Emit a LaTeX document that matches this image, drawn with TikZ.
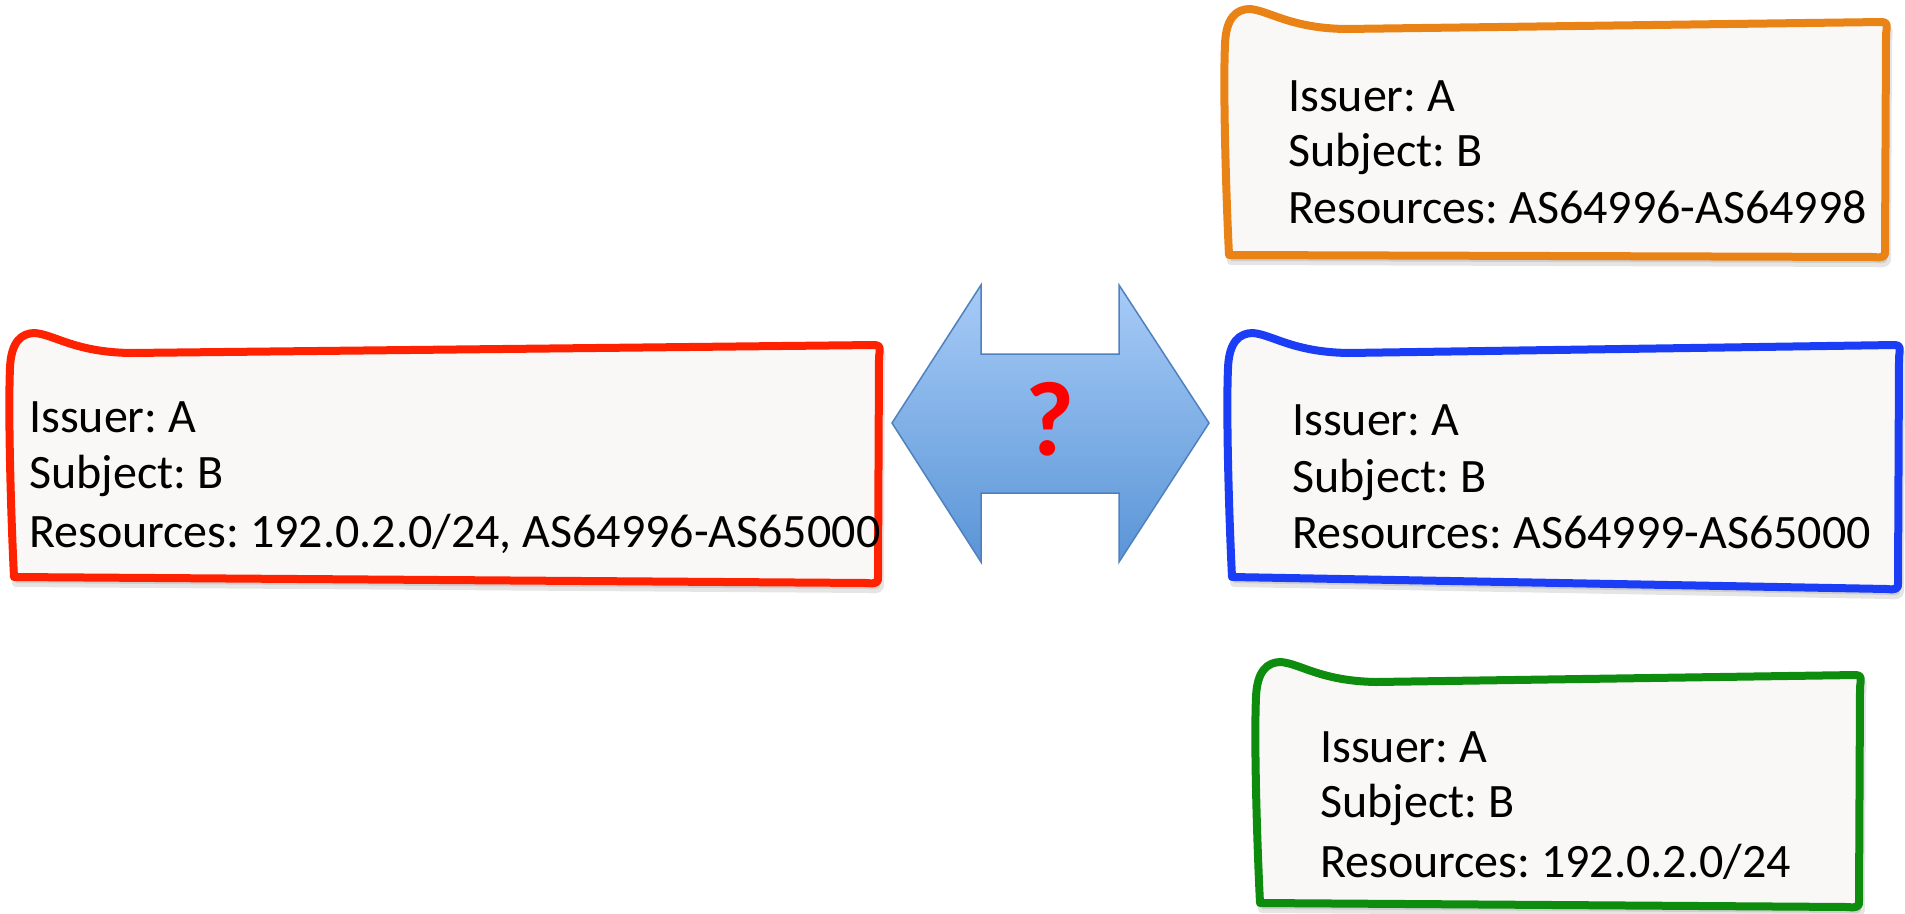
\documentclass[tikz,border=0pt]{standalone}
\usepackage{fontspec}
\setmainfont{Carlito}
\frenchspacing
\definecolor{boxfill}{HTML}{F9F8F7}
\definecolor{cred}{HTML}{FF2200}
\definecolor{corange}{HTML}{EA8315}
\definecolor{cblue}{HTML}{1A3DF5}
\definecolor{cgreen}{HTML}{0E8C0E}
\definecolor{arrtop}{HTML}{A7CBF7}
\definecolor{arrbot}{HTML}{5A95D6}
\definecolor{arredge}{HTML}{4F81BD}
\definecolor{qred}{HTML}{FF0000}
\tikzset{
  sketchline/.style={line width=8pt, line join=round, line cap=round, fill=boxfill},
  sketchshadow/.style={fill=black, draw=black, line width=8pt, line join=round, opacity=0.10},
  txt/.style={anchor=base west, inner sep=0pt, font=\fontsize{48}{56}\selectfont},
  qmark/.style={anchor=base, inner sep=0pt, text=qred, font=\bfseries\fontsize{106}{106}\selectfont},
  dblarrow/.style={top color=arrtop, bottom color=arrbot, draw=arredge, line width=1.5pt, line join=miter}
}
% #1 L, #2 T (bump top), #3 R, #4 top-right y, #5 bottom-left y, #6 bottom-right y
\newcommand\boxpath[6]{%
    ({#1+4},{#5})
    .. controls ({#1+1},{#5-60}) and ({#1-2},{#2+80}) .. ({#1},{#2+35})
    .. controls ({#1+1},{#2+8}) and ({#1+12},{#2}) .. ({#1+25},{#2})
    .. controls ({#1+45},{#2+2}) and ({#1+65},{#2+19}) .. ({#1+120},{#2+20})
    -- ({#3-6},{#4})
    .. controls ({#3},{#4}) and ({#3-1},{#4+4}) .. ({#3-2},{#4+12})
    -- ({#3-3},{#6-6})
    .. controls ({#3-2},{#6}) and ({#3-6},{#6+1}) .. ({#3-14},{#6})
    -- cycle}
% #1 colour, then the six geometry values
\newcommand\sketchbox[7]{%
  \path[sketchshadow, shift={(2,6)}] \boxpath{#2}{#3}{#4}{#5}{#6}{#7};
  \draw[sketchline, draw=#1] \boxpath{#2}{#3}{#4}{#5}{#6}{#7};
}
\begin{document}
\begin{tikzpicture}[x=1pt,y=-1pt]
\useasboundingbox (0,0) rectangle (1905,913);

% red box
\sketchbox{cred}{10}{333}{881}{345}{577}{583}
\node[txt] (r1) at (29,432) {Issuer: A};
\node[txt] (r2) at (29,488) {Subject: B};
\node[txt] (r3) at (29,547) {Resources: 192.0.2.0/24, AS64996-AS65000};

% orange box
\sketchbox{corange}{1225}{9}{1888}{22}{255}{257}
\node[txt] (o1) at (1288,111) {Issuer: A};
\node[txt] (o2) at (1288,166) {Subject: B};
\node[txt] (o3) at (1288,223) {Resources: AS64996-AS64998};

% blue box
\sketchbox{cblue}{1228}{333}{1901}{345}{577}{589}
\node[txt] (b1) at (1292,435) {Issuer: A};
\node[txt] (b2) at (1292,492) {Subject: B};
\node[txt] (b3) at (1292,548) {Resources: AS64999-AS65000};

% green box
\sketchbox{cgreen}{1256}{662}{1862}{675}{903}{907}
\node[txt] (g1) at (1320,762) {Issuer: A};
\node[txt] (g2) at (1320,817) {Subject: B};
\node[txt] (g3) at (1320,877) {Resources: 192.0.2.0/24};

% double arrow
\path[dblarrow] (892,423) -- (981,285) -- (981,354) -- (1119,354) -- (1119,285)
  -- (1209,423) -- (1119,562) -- (1119,493) -- (981,493) -- (981,562) -- cycle;
\node[qmark] (q) at (1050,455) {?};
\end{tikzpicture}
\end{document}
